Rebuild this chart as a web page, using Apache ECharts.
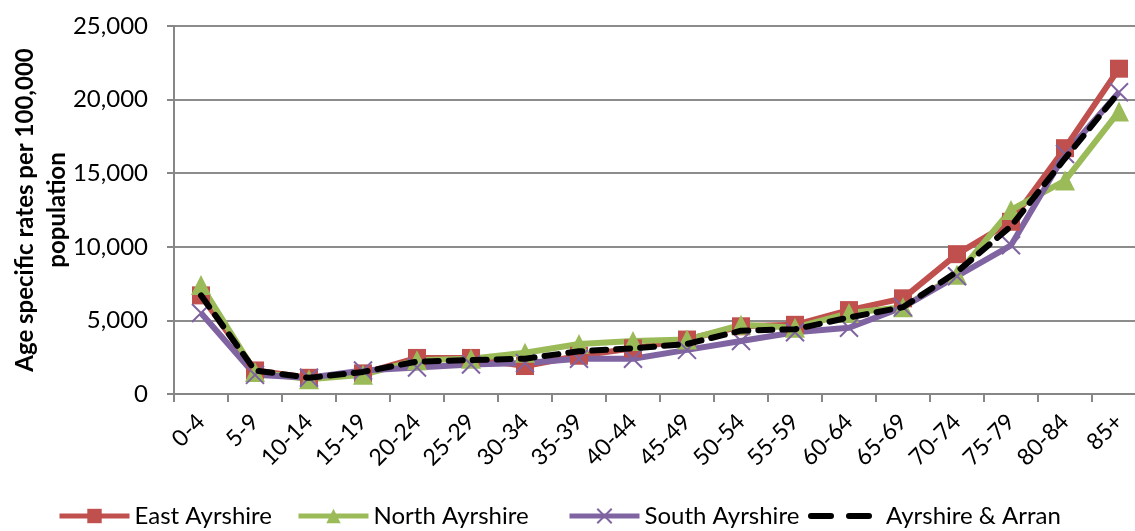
<!DOCTYPE html>
<html>
<head>
<meta charset="utf-8">
<script src="https://cdn.jsdelivr.net/npm/echarts@6/dist/echarts.min.js"></script>
<style>
  html, body { margin: 0; padding: 0; background: #fff; }
  #chart { width: 1135px; height: 531px; }
</style>
</head>
<body>
<div id="chart"></div>
<script>
// age bands on x axis
const ageBands = ['0-4','5-9','10-14','15-19','20-24','25-29','30-34','35-39','40-44',
  '45-49','50-54','55-59','60-64','65-69','70-74','75-79','80-84','85+'];
// rates per 100,000
const eastAyrshire  = [6700,1600,1100,1400,2450,2450,1900,2600,3100,3700,4600,4700,5700,6500,9500,11700,16700,22100];
const northAyrshire = [7400,1500,1000,1300,2300,2400,2800,3400,3600,3700,4700,4500,5500,5900,8100,12500,14500,19200];
const southAyrshire = [5500,1300,1100,1600,1800,2000,2100,2400,2400,3000,3600,4200,4500,5900,8000,10100,16300,20500];
const ayrshireArran = [6700,1600,1100,1500,2200,2300,2400,2900,3100,3400,4300,4400,5200,5900,8300,11400,16000,20500];
const yTicks = { min: 0, max: 25000, interval: 5000 };

const FONT = 'Lato';
const crossPath = 'path://M0,0L10,10M10,0L0,10';

let chart = echarts.init(document.getElementById('chart'));

function lineSeries(name, data, color, symbol, size) {
  return {
    name: name,
    type: 'line',
    data: data,
    symbol: symbol,
    symbolSize: size,
    showSymbol: true,
    lineStyle: { color: color, width: 6 },
    itemStyle: { color: color, borderColor: color, borderWidth: symbol === crossPath ? 2 : 0 },
    z: 2
  };
}

// one legend per entry so each can sit where the original puts it
function legendAt(name, left, extra) {
  return {
    bottom: 3,
    left: left,
    padding: 0,
    itemWidth: 70,
    itemHeight: 18,
    textStyle: { fontFamily: FONT, fontSize: 24, color: '#000' },
    data: [Object.assign({ name: name, lineStyle: { width: 5 } }, extra || {})]
  };
}

let option = {
  animation: false,
  textStyle: { fontFamily: FONT },
  grid: { left: 174, right: -11, top: 26, bottom: 137, containLabel: false, outerBoundsMode: 'none' },
  legend: [
    legendAt('East Ayrshire', 57),
    legendAt('North Ayrshire', 296),
    legendAt('South Ayrshire', 567),
    legendAt('Ayrshire & Arran', 808, { itemStyle: { opacity: 0 }, lineStyle: { width: 6, type: [20, 18], cap: 'round' } })
  ],
  xAxis: {
    type: 'category',
    data: ageBands,
    boundaryGap: true,
    axisLine: { lineStyle: { color: '#868686', width: 2 } },
    axisTick: { show: true, length: 8, lineStyle: { color: '#868686', width: 2 } },
    axisLabel: { rotate: 45, fontSize: 23, color: '#000', fontFamily: FONT, margin: 24 }
  },
  yAxis: {
    type: 'value',
    min: yTicks.min,
    max: yTicks.max,
    interval: yTicks.interval,
    name: 'Age specific rates per 100,000\npopulation',
    nameLocation: 'middle',
    nameRotate: 90,
    nameGap: 101,
    nameMoveOverlap: false,
    nameTextStyle: { fontFamily: FONT, fontSize: 24, fontWeight: 'bold', color: '#000', lineHeight: 32 },
    axisLine: { show: true, lineStyle: { color: '#868686', width: 2 } },
    axisTick: { show: true, length: 7, lineStyle: { color: '#868686', width: 2 } },
    splitLine: { lineStyle: { color: '#8c8c8c', width: 2 } },
    axisLabel: {
      fontSize: 24, color: '#000', fontFamily: FONT, margin: 26,
      formatter: v => v.toLocaleString('en-US')
    }
  },
  series: [
    lineSeries('East Ayrshire', eastAyrshire, '#C0504D', 'rect', 18),
    lineSeries('North Ayrshire', northAyrshire, '#9BBB59', 'triangle', 20),
    lineSeries('South Ayrshire', southAyrshire, '#8064A2', crossPath, 18),
    {
      name: 'Ayrshire & Arran',
      type: 'line',
      data: ayrshireArran,
      symbol: 'none',
      lineStyle: { color: '#000', width: 6, type: [14, 10], cap: 'round' },
      itemStyle: { color: '#000' },
      z: 3
    }
  ]
};
chart.setOption(option);
</script>
</body>
</html>
